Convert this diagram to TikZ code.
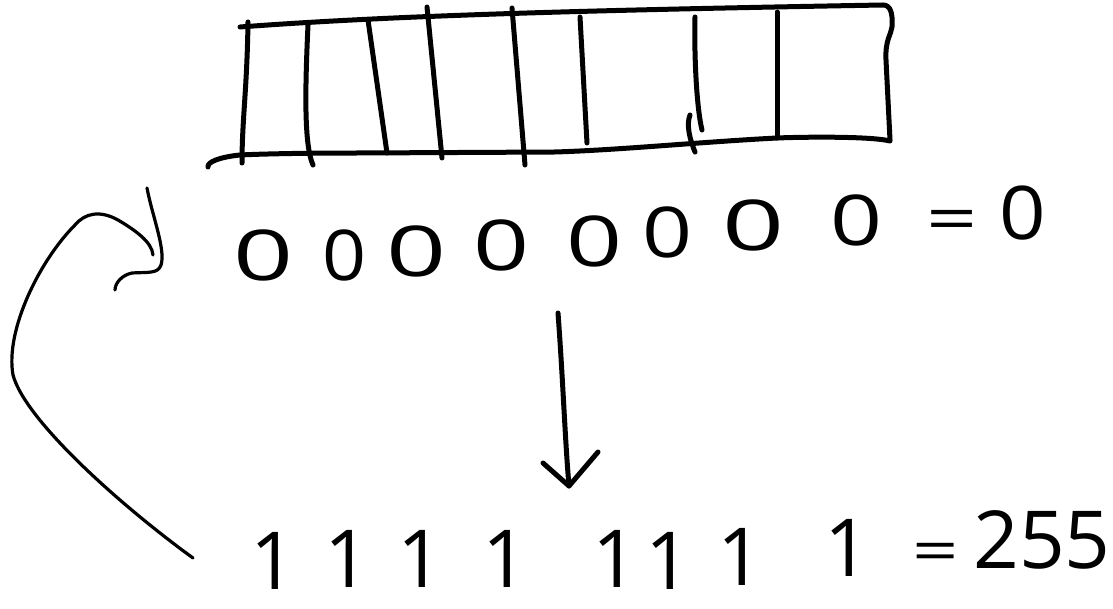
\documentclass[tikz,border=0pt]{standalone}
\usepackage{fontspec}
\setmainfont{Open Sans}
\tikzset{
  pen/.style={line width=5pt, line cap=round, line join=round},
  thinpen/.style={line width=3.2pt, line cap=round, line join=round},
  zero/.style={font=\fontsize{70}{70}\selectfont, inner sep=0pt},
  one/.style={font=\fontsize{80}{80}\selectfont, inner sep=0pt},
}
\newcommand{\wide}[2][1.45]{\scalebox{#1}[1]{#2}}
\begin{document}
\begin{tikzpicture}[x=1pt,y=-1pt]
\useasboundingbox (0,0) rectangle (1113,609);

% the byte: outer frame
\draw[pen] (240,27) .. controls (400,15) and (600,10) .. (883,5)
  .. controls (890,5) and (893,12) .. (892,27)
  .. controls (891,35) and (885,40) .. (886,60) -- (890,140);
\draw[pen] (890,141) .. controls (870,136) and (800,137) .. (777,138)
  .. controls (700,142) and (620,150) .. (555,152) -- (362,153)
  .. controls (300,153) and (260,154) .. (240,155)
  .. controls (220,157) and (207,162) .. (208,167);

% the byte: bit separators
\draw[pen] (248,22) .. controls (247,90) and (242,120) .. (242,163);
\draw[pen] (308,25) .. controls (305,90) and (304,145) .. (313,165);
\draw[pen] (368,20) -- (387,153);
\draw[pen] (427,7) -- (442,158);
\draw[pen] (512,8) -- (525,165);
\draw[pen] (580,17) -- (587,143);
\draw[pen] (695,17) .. controls (694,60) and (697,110) .. (702,130);
\draw[pen] (690,115) .. controls (686,125) and (690,140) .. (695,152);
\draw[pen] (777,12) -- (777,138);

% all bits cleared
\node[zero] (z1) at (264,255) {\wide[1.5]{0}};
\node[zero] (z2) at (345,255) {\wide[1.1]{0}};
\node[zero] (z3) at (417,251) {\wide[1.5]{0}};
\node[zero] (z4) at (502,245) {\wide[1.4]{0}};
\node[zero] (z5) at (595,241) {\wide[1.4]{0}};
\node[zero] (z6) at (668,232) {\wide[1.25]{0}};
\node[zero] (z7) at (754,225) {\wide[1.55]{0}};
\node[zero] (z8) at (857,220) {\wide[1.3]{0}};
\node[zero, font=\fontsize{64}{64}\selectfont] (zeq) at (952,226) {\wide[1.4]{=}};
\node[zero, font=\fontsize{74}{74}\selectfont] (zval) at (1023,213) {\wide[1.1]{0}};

% all bits set
\node[one] (o1) at (273,561) {1};
\node[one] (o2) at (347,559) {1};
\node[one] (o3) at (420,559) {1};
\node[one] (o4) at (505,559) {1};
\node[one] (o5) at (615,559) {1};
\node[one] (o6) at (668,561) {1};
\node[one] (o7) at (740,557) {1};
\node[one] (o8) at (847,548) {1};
\node[one, font=\fontsize{58}{58}\selectfont] (oeq) at (936,557) {\wide[1.4]{=}};
\node[one] (oval) at (1042,540) {255};

% step from 0 to 255
\coordinate (down0) at (558,313);
\coordinate (down1) at (569,486);
\draw[pen] (down0) .. controls (563,380) and (565,440) .. (down1);
\draw[pen] (543,463) -- (down1) -- (598,452);

% wrap-around back to 0
\coordinate (wrap0) at (193,558);
\coordinate (wrap1) at (153,255);
\draw[thinpen] (wrap0) .. controls (120,505) and (25,420) .. (13,375)
  .. controls (5,330) and (40,260) .. (75,225)
  .. controls (85,213) and (100,210) .. (118,220)
  .. controls (135,230) and (152,242) .. (wrap1);
\draw[thinpen] (147,188) .. controls (152,215) and (166,250) .. (161,265)
  .. controls (158,274) and (148,272) .. (132,273)
  .. controls (122,275) and (115,283) .. (115,290);
\end{tikzpicture}
\end{document}
